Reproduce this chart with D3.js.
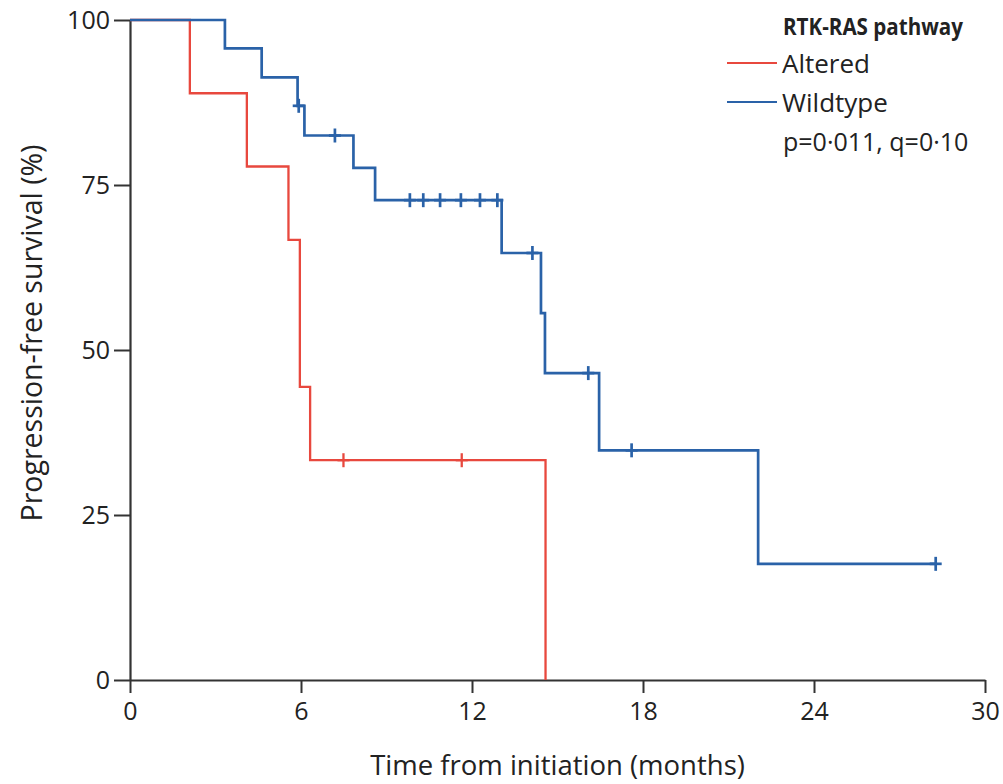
<!DOCTYPE html>
<html>
<head>
<meta charset="utf-8">
<script src="https://cdn.jsdelivr.net/npm/d3@7"></script>
<style>
  body { margin: 0; background: #fff; }
  svg text { font-family: "Open Sans", sans-serif; fill: #222; }
</style>
</head>
<body>
<svg id="chart" width="1003" height="784"></svg>
<script>
// 데이터
var xTicks = [0, 6, 12, 18, 24, 30];
var yTicks = [0, 25, 50, 75, 100];

// Altered 그룹 (계단 시작 시각, 생존율 %)
var alteredTimes = [0, 2.1, 4.1, 5.56, 5.96, 6.32, 14.58];
var alteredSurv  = [100, 88.9, 77.8, 66.7, 44.4, 33.3, 0];
var alteredCensor = [7.49, 11.64];

// Wildtype 그룹
var wildTimes = [0, 3.33, 4.62, 5.88, 6.12, 7.84, 8.6, 13.04, 14.42, 14.56, 16.46, 22.04];
var wildSurv  = [100, 95.7, 91.3, 87.0, 82.5, 77.6, 72.7, 64.7, 55.6, 46.5, 34.8, 17.6];
var wildCensor = [5.92, 7.19, 9.82, 10.29, 10.88, 11.61, 12.28, 12.89, 14.12, 16.08, 17.6, 28.27];
var wildEnd = 28.27;

var legendTitle = "RTK-RAS pathway";
var legendLabels = ["Altered", "Wildtype"];
var statText = "p=0·011, q=0·10";

var red = "#e8483e";
var blue = "#2a62a8";

var svg = d3.select("#chart");
var margin = { top: 20, right: 18, bottom: 104, left: 130 };
var width = 1003, height = 784;

var x = d3.scaleLinear().domain([0, 30]).range([margin.left, width - margin.right]);
var y = d3.scaleLinear().domain([0, 100]).range([height - margin.bottom, margin.top]);

// 축
var xAxis = svg.append("g")
    .attr("transform", "translate(0," + y(0) + ")")
    .call(d3.axisBottom(x).tickValues(xTicks).tickSize(13).tickPadding(9).tickSizeOuter(0));
var yAxis = svg.append("g")
    .attr("transform", "translate(" + x(0) + ",0)")
    .call(d3.axisLeft(y).tickValues(yTicks).tickSize(16).tickPadding(4).tickSizeOuter(0));

[xAxis, yAxis].forEach(function(g) {
    g.select(".domain").attr("stroke", "#333").attr("stroke-width", 2.2);
    g.selectAll(".tick line").attr("stroke", "#333").attr("stroke-width", 2);
    g.selectAll(".tick text").style("font-size", "25px").attr("fill", "#222");
});
yAxis.selectAll(".tick text").attr("dy", "0.34em");

// 축 제목
svg.append("text")
    .attr("x", (x(0) + x(30)) / 2)
    .attr("y", 775)
    .attr("text-anchor", "middle")
    .style("font-size", "27.5px")
    .text("Time from initiation (months)");

svg.append("text")
    .attr("transform", "translate(42,333) rotate(-90)")
    .attr("text-anchor", "middle")
    .style("font-size", "28.5px")
    .text("Progression-free survival (%)");

// 생존 곡선
var line = d3.line()
    .x(function(d) { return x(d[0]); })
    .y(function(d) { return y(d[1]); })
    .curve(d3.curveStepAfter);

function survAt(times, surv, t) {
    var i = d3.bisectRight(times, t) - 1;
    return surv[Math.max(0, i)];
}

function drawCurve(times, surv, endT, censor, color, lw) {
    var pts = d3.zip(times, surv);
    if (endT != null) pts.push([endT, surv[surv.length - 1]]);
    svg.append("path")
        .datum(pts)
        .attr("d", line)
        .attr("fill", "none")
        .attr("stroke", color)
        .attr("stroke-width", lw);

    var marks = svg.append("g");
    censor.forEach(function(t) {
        var cx = x(t), cy = y(survAt(times, surv, t));
        marks.append("line").attr("x1", cx - 6).attr("x2", cx + 6).attr("y1", cy).attr("y2", cy);
        marks.append("line").attr("x1", cx).attr("x2", cx).attr("y1", cy - 7).attr("y2", cy + 7);
    });
    marks.selectAll("line").attr("stroke", color).attr("stroke-width", lw);
}

drawCurve(alteredTimes, alteredSurv, null, alteredCensor, red, 2.3);
drawCurve(wildTimes, wildSurv, wildEnd, wildCensor, blue, 2.7);

// 범례
var lg = svg.append("g");
lg.append("text")
    .attr("x", 783).attr("y", 35)
    .attr("textLength", 180)
    .attr("lengthAdjust", "spacingAndGlyphs")
    .style("font-size", "24px").style("font-weight", "bold")
    .text(legendTitle);

[red, blue].forEach(function(c, i) {
    var by = 73 + i * 39;
    lg.append("line")
        .attr("x1", 727).attr("x2", 777)
        .attr("y1", by - 10).attr("y2", by - 10)
        .attr("stroke", c).attr("stroke-width", 2.2);
    lg.append("text")
        .attr("x", 782).attr("y", by)
        .style("font-size", "26px")
        .text(legendLabels[i]);
});

lg.append("text")
    .attr("x", 783).attr("y", 151)
    .style("font-size", "25px")
    .text(statText);
</script>
</body>
</html>
